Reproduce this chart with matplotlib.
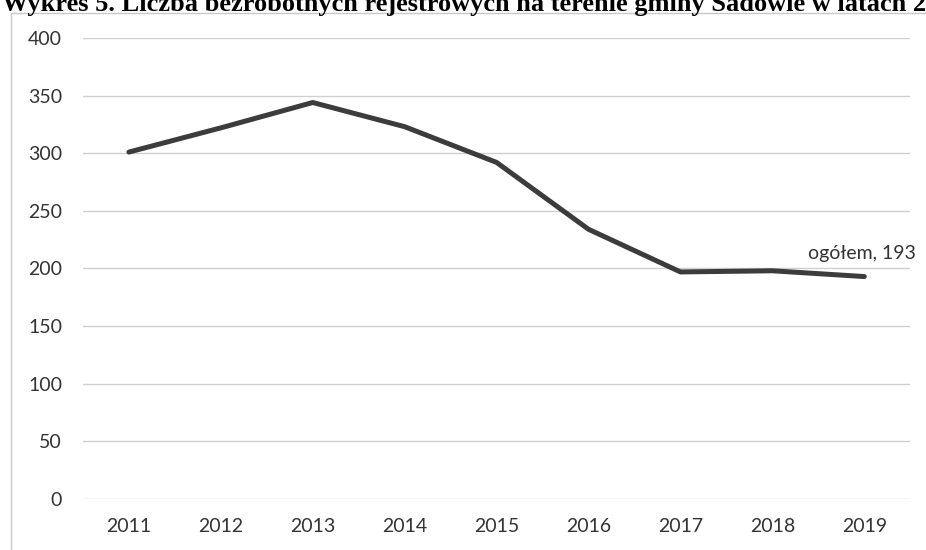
import matplotlib.pyplot as plt
from matplotlib.patches import Rectangle

years = ["2011", "2012", "2013", "2014", "2015", "2016", "2017", "2018", "2019"]
ogolem = [301, 322, 344, 323, 292, 234, 197, 198, 193]
yticks = [0, 50, 100, 150, 200, 250, 300, 350, 400]
title = "Wykres 5. Liczba bezrobotnych rejestrowych na terenie gminy Sadowie w latach 2011-2019"

plt.rcParams["font.family"] = ["Lato", "DejaVu Sans"]

fig = plt.figure(figsize=(9.26, 5.5), dpi=100)
ax = fig.add_axes([0.0896, 0.0927, 0.8934, 0.8383])

x = list(range(len(years)))
ax.plot(x, ogolem, color="#3c3c3c", lw=3.6, solid_capstyle="round", solid_joinstyle="round", zorder=3)
ax.text(x[-1] + 0.56, ogolem[-1] + 13, f"ogółem, {ogolem[-1]}", ha="right", va="bottom",
        fontsize=14, color="#333333")

ax.set_xlim(-0.5, len(years) - 0.5)
ax.set_ylim(0, 400)
ax.set_yticks(yticks)
ax.set_xticks(x)
ax.set_xticklabels(years)
ax.grid(axis="y", color="#cfcfcf", lw=1)
ax.set_axisbelow(True)
for s in ax.spines.values():
    s.set_visible(False)
ax.tick_params(length=0, labelsize=14, colors="#333333")
ax.tick_params(axis="y", pad=15)
ax.tick_params(axis="x", pad=14)

# chart frame (scanned, cropped at top/right)
fig.patches.append(Rectangle((11 / 926, -0.1), 1.2, 1 - 13 / 550 + 0.1, transform=fig.transFigure,
                             fill=False, edgecolor="#c8c8c8", lw=1))
fig.text(0.002, 1 - 11 / 550, title, ha="left", va="baseline", fontsize=19, fontweight="bold",
         family="Liberation Serif", color="black")

fig.savefig("out.png", dpi=100)
